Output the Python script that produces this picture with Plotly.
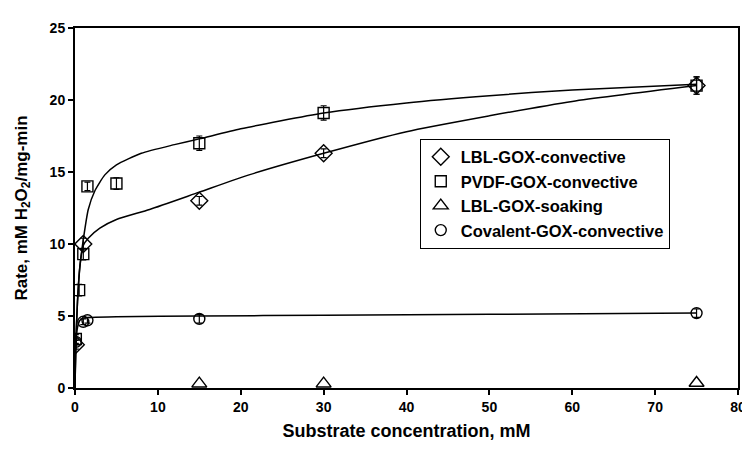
import plotly.graph_objects as go

# ---- data ----
lbl_conv_x = [0.1, 1, 15, 30, 75]
lbl_conv_y = [3.0, 10.0, 13.0, 16.3, 21.0]
lbl_conv_err = [0.3, 0.4, 0.3, 0.3, 0.6]

pvdf_x = [0.1, 0.5, 1, 1.5, 5, 15, 30, 75]
pvdf_y = [3.4, 6.8, 9.3, 14.0, 14.2, 17.0, 19.1, 21.0]
pvdf_err = [0.3, 0.4, 0.4, 0.3, 0.4, 0.5, 0.5, 0.6]

soak_x = [15, 30, 75]
soak_y = [0.3, 0.3, 0.35]

cov_x = [0.1, 1, 1.5, 15, 75]
cov_y = [3.2, 4.6, 4.7, 4.8, 5.2]
cov_err = [0.2, 0.2, 0.2, 0.3, 0.3]

# fitted curves as drawn in the reference
pvdf_fit_x = [0, 0.1, 0.3, 0.6, 1, 1.6, 2.4, 3.6, 5, 8, 12, 15, 20, 30, 40, 50, 60, 75]
pvdf_fit_y = [0, 3.2, 6.0, 8.5, 10.3, 12.4, 13.7, 14.8, 15.5, 16.3, 16.9, 17.3, 18.0, 19.1, 19.8, 20.3, 20.7, 21.1]

lbl_fit_x = [0, 0.1, 0.3, 0.6, 1, 1.6, 3, 5, 9, 15, 21, 30, 40, 50, 60, 75]
lbl_fit_y = [0, 3.0, 6.0, 8.5, 9.9, 10.4, 11.1, 11.7, 12.4, 13.6, 14.8, 16.3, 17.8, 18.9, 19.9, 21.0]

cov_fit_x = [0, 0.1, 0.3, 0.6, 1, 2, 5, 15, 30, 50, 75]
cov_fit_y = [0, 3.0, 4.2, 4.7, 4.85, 4.9, 4.95, 5.0, 5.05, 5.12, 5.2]

x_ticks = [0, 10, 20, 30, 40, 50, 60, 70, 80]
y_ticks = [0, 5, 10, 15, 20, 25]

FONT = "Liberation Sans, Arial, sans-serif"

fig = go.Figure()

line_style = dict(color="black", width=1.5, shape="spline", smoothing=0.6)
for fx, fy in [(pvdf_fit_x, pvdf_fit_y), (lbl_fit_x, lbl_fit_y), (cov_fit_x, cov_fit_y)]:
    fig.add_trace(go.Scatter(x=fx, y=fy, mode="lines", line=line_style,
                             showlegend=False, hoverinfo="skip"))

def mk(symbol, size):
    return dict(symbol=symbol, size=size, color="black",
                line=dict(color="black", width=1.4))

err = lambda e: dict(type="data", array=e, visible=True, color="black",
                     thickness=1.2, width=3)

fig.add_trace(go.Scatter(x=lbl_conv_x, y=lbl_conv_y, mode="markers",
                         name="LBL-GOX-convective", marker=mk("diamond-open", 13),
                         error_y=err(lbl_conv_err)))
fig.add_trace(go.Scatter(x=pvdf_x, y=pvdf_y, mode="markers",
                         name="PVDF-GOX-convective", marker=mk("square-open", 11),
                         error_y=err(pvdf_err)))
fig.add_trace(go.Scatter(x=soak_x, y=soak_y, mode="markers", cliponaxis=False,
                         name="LBL-GOX-soaking", marker=mk("triangle-up-open", 13)))
fig.add_trace(go.Scatter(x=cov_x, y=cov_y, mode="markers",
                         name="Covalent-GOX-convective", marker=mk("circle-open", 11),
                         error_y=err(cov_err)))

axis_common = dict(showline=True, linecolor="black", mirror=True, ticks="outside",
                   ticklen=5, tickwidth=1.5, tickcolor="black", showgrid=False,
                   zeroline=False, tickfont=dict(family=FONT, size=14, color="black",
                                                 weight="bold"))

fig.update_xaxes(range=[0, 80], tickvals=x_ticks, linewidth=2,
                 title=dict(text="Substrate concentration, mM", standoff=11,
                            font=dict(family=FONT, size=18, color="black", weight="bold")),
                 **axis_common)
fig.update_yaxes(range=[0, 25], tickvals=y_ticks, linewidth=2,
                 title=dict(text="Rate, mM H<sub>2</sub>O<sub>2</sub>/mg-min", standoff=18,
                            font=dict(family=FONT, size=17, color="black", weight="bold")),
                 **axis_common)

fig.update_layout(
    width=750, height=449,
    margin=dict(l=67, r=19, t=15, b=69),
    paper_bgcolor="white", plot_bgcolor="white",
    font=dict(family=FONT, color="black"),
    legend=dict(x=0.52, y=0.693, xanchor="left", yanchor="top",
                bgcolor="white", bordercolor="black", borderwidth=1,
                font=dict(family=FONT, size=16.5, color="black", weight="bold"),
                itemwidth=30, tracegroupgap=0),
)

fig.write_html("out.html")
